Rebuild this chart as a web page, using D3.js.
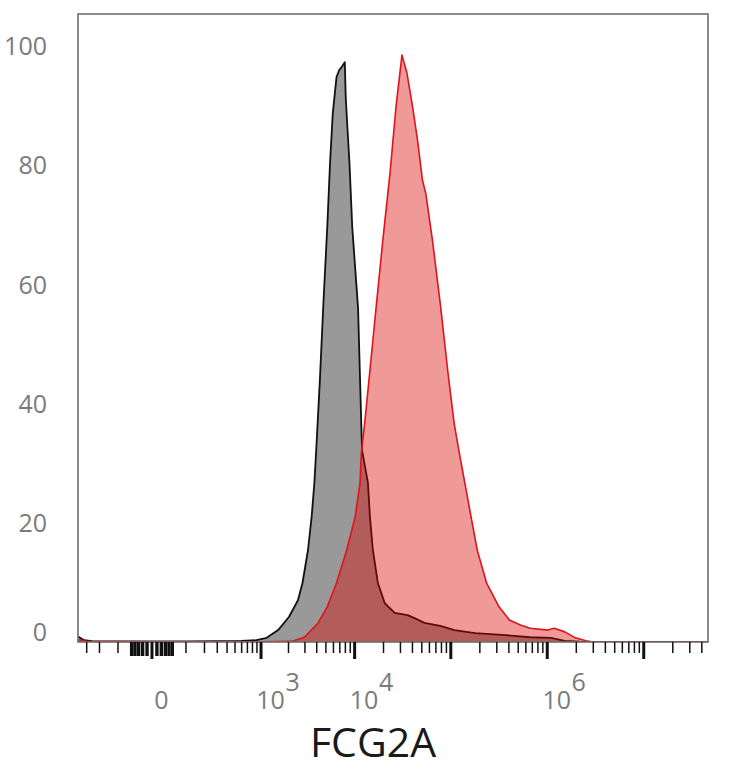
<!DOCTYPE html>
<html>
<head>
<meta charset="utf-8">
<script src="https://cdn.jsdelivr.net/npm/d3@7"></script>
<style>
    body { margin: 0; background: #fff; }
    svg { display: block; }
    .tick-label { font-family: "Open Sans", sans-serif; font-size: 25px; fill: #7b7b7b; }
    .axis-title { font-family: "Open Sans", sans-serif; font-size: 41px; fill: #1a1a1a; }
</style>
</head>
<body>
<div id="chart"></div>
<script>
// control histogram (grey): fluorescence value, % of max
const controlValues = [-380, -320, -250, -100, 0, 100, 300, 600, 900, 1170, 1563, 2045, 2558, 2859,
    3270, 3576, 3824, 4000, 4373, 4780, 5228, 5592, 5980, 6540, 6990, 7475, 7990, 8170, 8540, 8940,
    9560, 10995, 11530, 12090, 13940, 14620, 15700, 17690, 20870, 26450, 36040, 42540, 53960, 78760,
    110400, 181000, 344800, 673000, 1106000, 1537000, 2200000, 47000000];
const controlCounts = [0.9, 0.3, 0.15, 0.1, 0.1, 0.1, 0.15, 0.2, 0.3, 0.7, 2.0, 4.2, 7.0, 9.9,
    15.4, 21.0, 26.7, 32.2, 44.0, 57.4, 69.6, 80.4, 88.8, 94.8, 96.0, 96.6, 97.3, 91.4, 85.9, 80.4,
    69.6, 56.0, 44.0, 32.2, 26.7, 21.0, 15.4, 9.9, 6.5, 4.9, 4.5, 4.0, 3.2, 2.7,
    2.0, 1.5, 1.2, 0.8, 0.7, 0.2, 0.05, 0];

// FCG2A histogram (red)
const fcgValues = [-380, -300, 0, 1000, 2186, 2991, 4180, 5228, 6540, 8355, 10240, 11530, 11890,
    12890, 14520, 16970, 19910, 23660, 27300, 31490, 35440, 40600, 45710, 51400, 55600, 65300,
    79430, 94700, 109600, 124000, 141400, 164100, 190300, 237800, 320000, 410000, 525000, 673000,
    1025000, 1194000, 1537000, 1981000, 2551000, 3045000, 47000000];
const fcgCounts = [0.4, 0.1, 0.05, 0.05, 0.1, 0.8, 3.2, 5.9, 9.9, 15.4, 21.0, 26.7, 31.7,
    36.7, 45.1, 56.2, 67.4, 78.7, 89.8, 98.5, 95.5, 89.8, 84.2, 77.5, 75.3, 67.4,
    56.2, 45.1, 36.7, 31.7, 26.7, 21.0, 15.4, 9.9, 5.9, 3.7, 2.9, 2.3,
    2.0, 2.3, 1.7, 0.7, 0.2, 0, 0];

const yTicks = [0, 20, 40, 60, 80, 100];
const xMajorTicks = [0, 1e3, 1e4, 1e5, 1e6, 1e7];
const xLabelTicks = [0, 1e3, 1e4, 1e6];
const xLabelExps = ["", "3", "4", "6"];
const nearZeroTicks = [-50, -40, -30, -20, -10, 10, 20, 30, 40, 50];
const xMinorTicks = [-300, -200, -100, 100, 200, 300, 400, 500, 600, 700, 800, 900];
[1e3, 1e4, 1e5, 1e6].forEach(dec => {
    for (let m = 2; m <= 9; m++) xMinorTicks.push(m * dec);
});
xMinorTicks.push(2e7, 3e7, 4e7);

const width = 734, height = 768;
const plot = { left: 78, right: 708, top: 14, bottom: 642 };

const svg = d3.select("#chart")
    .append("svg")
    .attr("width", width)
    .attr("height", height);

// biexponential-like display axis
const x = d3.scaleSymlog()
    .constant(80)
    .domain([-382, 4.69e7])
    .range([plot.left, plot.right]);

const y = d3.scaleLinear()
    .domain([0, 105.4])
    .range([plot.bottom, plot.top]);

svg.append("clipPath")
    .attr("id", "plot-clip")
    .append("rect")
    .attr("x", plot.left)
    .attr("y", plot.top)
    .attr("width", plot.right - plot.left)
    .attr("height", plot.bottom - plot.top);

const plotArea = svg.append("g").attr("clip-path", "url(#plot-clip)");

function drawHistogram(values, counts, fill, stroke, strokeWidth) {
    const pts = values.map((v, i) => ({ v: v, c: counts[i] }));
    plotArea.append("path")
        .datum(pts)
        .attr("d", d3.area()
            .x(d => x(d.v))
            .y0(y(0))
            .y1(d => y(d.c)))
        .style("fill", fill);
    plotArea.append("path")
        .datum(pts)
        .attr("d", d3.line()
            .x(d => x(d.v))
            .y(d => y(d.c)))
        .style("fill", "none")
        .style("stroke", stroke)
        .style("stroke-width", strokeWidth)
        .style("stroke-linejoin", "round");
}

drawHistogram(controlValues, controlCounts, "rgba(0,0,0,0.4)", "#111", 1.8);
drawHistogram(fcgValues, fcgCounts, "rgba(217,0,0,0.4)", "#e0121a", 1.6);

// frame
svg.append("rect")
    .attr("x", plot.left)
    .attr("y", plot.top)
    .attr("width", plot.right - plot.left)
    .attr("height", plot.bottom - plot.top)
    .style("fill", "none")
    .style("stroke", "#6f6f6f")
    .style("stroke-width", 1.6);

// x ticks
function tickRow(values, size, strokeWidth) {
    const g = svg.append("g")
        .attr("transform", `translate(0,${plot.bottom})`)
        .call(d3.axisBottom(x).tickValues(values).tickSize(size).tickFormat(""));
    g.select(".domain").remove();
    g.selectAll(".tick line")
        .style("stroke", "#111")
        .style("stroke-width", strokeWidth);
}
tickRow(xMinorTicks, 11, 1.5);
tickRow(nearZeroTicks, 14, 3.4);
tickRow(xMajorTicks, 17, 3);

// x tick labels
xLabelTicks.forEach((v, i) => {
    const cx = x(v) + 10;
    svg.append("text")
        .attr("class", "tick-label")
        .attr("x", cx)
        .attr("y", 709)
        .attr("text-anchor", "middle")
        .text(v === 0 ? "0" : "10");
    if (xLabelExps[i]) {
        svg.append("text")
            .attr("class", "tick-label")
            .attr("x", cx + 22)
            .attr("y", 691)
            .attr("text-anchor", "middle")
            .text(xLabelExps[i]);
    }
});

// y tick labels
const yAxis = svg.append("g")
    .attr("transform", `translate(${plot.left},0)`)
    .call(d3.axisLeft(y).tickValues(yTicks).tickSize(0).tickPadding(31));
yAxis.select(".domain").remove();
yAxis.selectAll(".tick text")
    .attr("class", "tick-label")
    .attr("dy", d => d === 0 ? "-0.08em" : "0.34em");

svg.append("text")
    .attr("class", "axis-title")
    .attr("x", 373)
    .attr("y", 757)
    .attr("text-anchor", "middle")
    .text("FCG2A");
</script>
</body>
</html>
